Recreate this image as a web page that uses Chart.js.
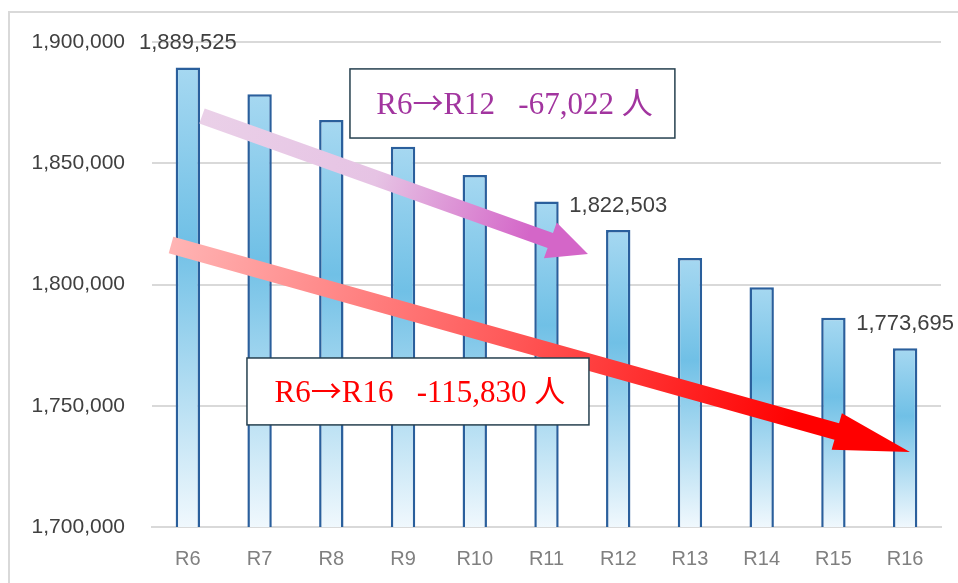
<!DOCTYPE html>
<html>
<head>
<meta charset="utf-8">
<script src="https://cdn.jsdelivr.net/npm/chart.js@4.4.0/dist/chart.umd.min.js"></script>
<style>
  html, body { margin: 0; padding: 0; background: #fff; }
  #wrap { position: relative; width: 958px; height: 583px; }
</style>
</head>
<body>
<div id="wrap"><canvas id="pop-chart" width="958" height="583"></canvas></div>
<script>
// years (Reiwa) and population
const years = ['R6', 'R7', 'R8', 'R9', 'R10', 'R11', 'R12', 'R13', 'R14', 'R15', 'R16'];
const population = [1889525, 1878500, 1867800, 1856800, 1845200, 1834200, 1822503, 1810900, 1798900, 1786300, 1773695];
const labelledIdx = [0, 6, 10];
const yTicks = [1700000, 1750000, 1800000, 1850000, 1900000];

// callouts, placed in axis units (category index, value)
const arrows = [
    { from: [0.197, 1869500], to: [5.578, 1812600], shaft: 8, headLen: 40, headHalf: 19, colors: ['#ead0e8', '#e6c3e4', '#d466c8'] },
    { from: [-0.235, 1816300], to: [10.067, 1730900], shaft: 8.5, headLen: 76, headHalf: 19, colors: ['#ffb4b4', '#ff5a5a', '#ff0000'] },
];
const boxes = [
    { parts: ['R6', '\u2192', 'R12\u00a0\u00a0\u00a0-67,022 ', '\u4eba'], x0: 2.26, y0: 1888900, x1: 6.79, y1: 1860400, color: '#a2359f' },
    { parts: ['R6', '\u2192', 'R16\u00a0\u00a0\u00a0-115,830 ', '\u4eba'], x0: 0.824, y0: 1769700, x1: 5.592, y1: 1742100, color: '#ff0000' },
];
const serifFont = '31px "Liberation Serif", serif';
const cjkFont = '31px "Noto Sans CJK JP", sans-serif';

function fmt(v) {
    return v.toLocaleString('en-US');
}

function barFill(context) {
    const chart = context.chart;
    if (!chart.chartArea || context.type !== 'data') return '#74c2e7';
    const y = chart.scales.y;
    const top = y.getPixelForValue(context.raw);
    const bottom = y.getPixelForValue(y.min);
    const g = chart.ctx.createLinearGradient(0, top, 0, bottom);
    g.addColorStop(0, '#a6d8f1');
    g.addColorStop(0.38, '#70c0e6');
    g.addColorStop(1, '#f0f8fd');
    return g;
}

function drawArrow(ctx, x0, y0, x1, y1, a) {
    const len = Math.hypot(x1 - x0, y1 - y0);
    const ux = (x1 - x0) / len, uy = (y1 - y0) / len;
    const nx = -uy, ny = ux;
    const bx = x1 - ux * a.headLen, by = y1 - uy * a.headLen;
    const g = ctx.createLinearGradient(x0, y0, x1, y1);
    g.addColorStop(0, a.colors[0]);
    g.addColorStop(0.45, a.colors[1]);
    g.addColorStop(0.85, a.colors[2]);
    g.addColorStop(1, a.colors[2]);
    ctx.beginPath();
    ctx.moveTo(x0 + nx * a.shaft, y0 + ny * a.shaft);
    ctx.lineTo(bx + nx * a.shaft, by + ny * a.shaft);
    ctx.lineTo(bx + nx * a.headHalf, by + ny * a.headHalf);
    ctx.lineTo(x1, y1);
    ctx.lineTo(bx - nx * a.headHalf, by - ny * a.headHalf);
    ctx.lineTo(bx - nx * a.shaft, by - ny * a.shaft);
    ctx.lineTo(x0 - nx * a.shaft, y0 - ny * a.shaft);
    ctx.closePath();
    ctx.fillStyle = g;
    ctx.fill();
}

// draws mixed latin / CJK text centred at (cx, cy)
function drawParts(ctx, parts, cx, cy) {
    const fonts = parts.map((p) => (/[\u2190-\u21ff\u3000-\u9fff]/.test(p) ? cjkFont : serifFont));
    let total = 0;
    const widths = parts.map((p, i) => {
        ctx.font = fonts[i];
        const w = ctx.measureText(p).width;
        total += w;
        return w;
    });
    let x = cx - total / 2;
    ctx.textAlign = 'left';
    ctx.textBaseline = 'alphabetic';
    parts.forEach((p, i) => {
        ctx.font = fonts[i];
        ctx.fillText(p, x, cy + 11);
        x += widths[i];
    });
}

const framePlugin = {
    id: 'frame',
    beforeDraw(chart) {
        const ctx = chart.ctx;
        ctx.save();
        ctx.strokeStyle = '#d9d9d9';
        ctx.lineWidth = 2;
        ctx.beginPath();
        ctx.moveTo(9, chart.height);
        ctx.lineTo(9, 12);
        ctx.lineTo(chart.width, 12);
        ctx.stroke();
        ctx.restore();
    }
};

const calloutPlugin = {
    id: 'callouts',
    afterDatasetsDraw(chart) {
        const ctx = chart.ctx;
        const xs = chart.scales.x, ys = chart.scales.y;
        ctx.save();
        arrows.forEach((a) => {
            drawArrow(ctx,
                xs.getPixelForValue(a.from[0]), ys.getPixelForValue(a.from[1]),
                xs.getPixelForValue(a.to[0]), ys.getPixelForValue(a.to[1]), a);
        });
        boxes.forEach((b) => {
            const l = xs.getPixelForValue(b.x0), t = ys.getPixelForValue(b.y0);
            const r = xs.getPixelForValue(b.x1), btm = ys.getPixelForValue(b.y1);
            ctx.fillStyle = '#ffffff';
            ctx.fillRect(l, t, r - l, btm - t);
            ctx.strokeStyle = '#26404f';
            ctx.lineWidth = 1.5;
            ctx.strokeRect(l, t, r - l, btm - t);
            ctx.fillStyle = b.color;
            drawParts(ctx, b.parts, (l + r) / 2 + 2, (t + btm) / 2);
        });

        // value labels
        const meta = chart.getDatasetMeta(0);
        ctx.font = '22px "Liberation Sans", Arial, sans-serif';
        ctx.fillStyle = '#404040';
        ctx.textAlign = 'center';
        ctx.textBaseline = 'middle';
        labelledIdx.forEach((i) => {
            const bar = meta.data[i];
            ctx.fillText(fmt(population[i]), bar.x, bar.y - 24);
        });
        ctx.restore();
    }
};

new Chart(document.getElementById('pop-chart').getContext('2d'), {
    type: 'bar',
    data: {
        labels: years,
        datasets: [
            {
                data: population,
                backgroundColor: barFill,
                borderColor: '#2a5f9c',
                borderWidth: 2.5,
                borderSkipped: false,
                barPercentage: 0.34,
                categoryPercentage: 1,
            }
        ],
    },
    options: {
        responsive: false,
        animation: false,
        events: [],
        layout: { padding: { top: 42, right: 17, left: 0, bottom: 0 } },
        plugins: {
            legend: { display: false },
            tooltip: { enabled: false },
        },
        scales: {
            x: {
                grid: { display: false, drawTicks: false },
                border: { color: '#d9d9d9', width: 2 },
                ticks: {
                    color: '#808080',
                    padding: 20,
                    font: { family: '"Liberation Sans", Arial, sans-serif', size: 20 },
                },
                afterFit: (s) => { s.height = 56; },
            },
            y: {
                min: 1700000,
                max: 1900000,
                afterBuildTicks: (s) => { s.ticks = yTicks.map((v) => ({ value: v })); },
                grid: { color: '#d9d9d9', lineWidth: 2, drawTicks: false },
                border: { display: false },
                ticks: {
                    color: '#404040',
                    padding: 27,
                    font: { family: '"Liberation Sans", Arial, sans-serif', size: 21 },
                    callback: (v) => fmt(v),
                },
                afterFit: (s) => { s.width = 152; },
            },
        },
    },
    plugins: [framePlugin, calloutPlugin],
});
</script>
</body>
</html>
